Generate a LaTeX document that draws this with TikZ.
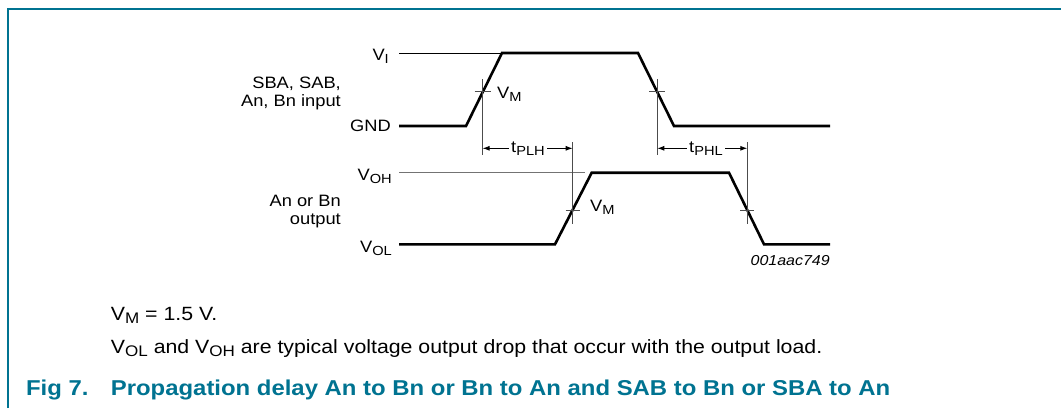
\documentclass[tikz,border=0pt]{standalone}
\usepackage{fontspec}
\setmainfont{Liberation Sans}
\usepackage{graphicx}
\usetikzlibrary{arrows.meta}
\definecolor{figteal}{rgb}{0.0, 0.45, 0.57}
\newcommand{\lo}[1]{\raisebox{-0.35ex}{\scalebox{0.8}{#1}}}

\begin{document}
\begin{tikzpicture}[x=1pt, y=-1pt,
  wave/.style={line width=2.6pt, line join=miter},
  guide/.style={line width=1pt},
  tick/.style={line width=0.9pt, color=black!70},
  dim/.style={line width=0.9pt, -{Latex[length=7pt,width=5pt]}},
  lbl/.style={font=\fontsize{18.3}{20}\selectfont, inner sep=0pt, yscale=0.9},
  note/.style={font=\fontsize{21.3}{24}\selectfont, inner sep=0pt, yscale=0.9},
  capt/.style={font=\fontsize{23.9}{27}\selectfont\bfseries, text=figteal, inner sep=0pt, yscale=0.9}]
\useasboundingbox (0,0) rectangle (1061,408);
% frame
\draw[line width=1.5pt, color=figteal] (8,408) -- (8,9) -- (1061,9);

% input waveform
\coordinate (inL) at (399,126);
\coordinate (inR0) at (466,126);
\coordinate (inR1) at (502,53);
\coordinate (inF0) at (638,53);
\coordinate (inF1) at (674,126);
\coordinate (inE) at (830,126);
\draw[guide] (399,53) -- (inR1);
\draw[wave] (inL) -- (inR0) -- (inR1) -- (inF0) -- (inF1) -- (inE);

% output waveform
\coordinate (outL) at (399,244.3);
\coordinate (outR0) at (555,244.3);
\coordinate (outR1) at (591.7,172.7);
\coordinate (outF0) at (729,172.7);
\coordinate (outF1) at (764,244.3);
\coordinate (outE) at (830,244.3);
\draw[guide, color=black!55] (399,172.7) -- (585,172.7);
\draw[wave] (outL) -- (outR0) -- (outR1) -- (outF0) -- (outF1) -- (outE);

% V_M crossings
\coordinate (inM1) at (482.6,91.7);
\coordinate (inM2) at (657.3,91.7);
\coordinate (outM1) at (572.7,210);
\coordinate (outM2) at (747.3,210);
\foreach \c in {inM1,inM2} {
  \draw[tick] (\c) ++(0,-12.7) -- ++(0,76);
  \draw[tick] (\c) ++(-8,0) -- ++(16,0);
}
\foreach \c in {outM1,outM2} {
  \draw[tick] (\c) ++(0,-68) -- ++(0,82);
  \draw[tick] (\c) ++(-7,0) -- ++(14,0);
}

% delays
\node[lbl, inner xsep=2.5pt] (tplh) at (528,148.3) {t\lo{PLH}};
\node[lbl, inner xsep=2.5pt] (tphl) at (706,148.3) {t\lo{PHL}};
\draw[dim] (tplh.west) -- (inM1 |- tplh.west);
\draw[dim] (tplh.east) -- (outM1 |- tplh.east);
\draw[dim] (tphl.west) -- (inM2 |- tphl.west);
\draw[dim] (tphl.east) -- (outM2 |- tphl.east);

% levels and names
\node[lbl, anchor=base east] (vi) at (389,60.5) {V\lo{I}};
\node[lbl, anchor=base east] (gnd) at (391,131.7) {GND};
\node[lbl, anchor=base east] (voh) at (392,180.5) {V\lo{OH}};
\node[lbl, anchor=base east] (vol) at (392,252) {V\lo{OL}};
\node[lbl, anchor=east, align=right] (inname) at (341,93) {SBA, SAB,\\An, Bn input};
\node[lbl, anchor=east, align=right] (outname) at (341,212) {An or Bn\\output};
\node[lbl, anchor=base west] (vm1) at (497,98.3) {V\lo{M}};
\node[lbl, anchor=base west] (vm2) at (590,211.7) {V\lo{M}};
\node[lbl, font=\fontsize{16}{18}\selectfont\itshape, anchor=base east] (code) at (830,265.7) {001aac749};

% notes and caption
\node[note, anchor=base west] (vmval) at (110.7,320) {V\lo{M} = 1.5 V.};
\node[note, anchor=base west] (vnote) at (110.7,353.3) {V\lo{OL} and V\lo{OH} are typical voltage output drop that occur with the output load.};
\node[capt, anchor=base west] (fignum) at (25.9,395) {Fig 7.};
\node[capt, anchor=base west] (figtitle) at (110.7,395) {Propagation delay An to Bn or Bn to An and SAB to Bn or SBA to An};
\end{tikzpicture}
\end{document}
